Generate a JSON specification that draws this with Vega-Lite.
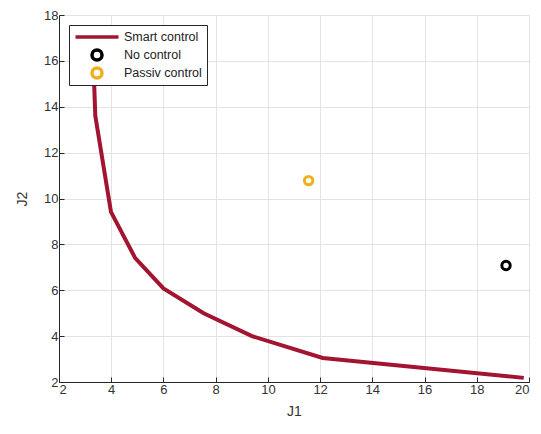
{
  "$schema": "https://vega.github.io/schema/vega-lite/v6.json",
  "autosize": {"type": "none"},
  "width": 470,
  "height": 367,
  "padding": {"left": 59, "top": 15, "right": 12, "bottom": 52},
  "background": "white",
  "config": {
    "font": "Liberation Sans",
    "view": {"stroke": "#d9d9d9", "strokeWidth": 1},
    "axis": {
      "domainColor": "#262626",
      "domainWidth": 1,
      "tickColor": "#262626",
      "tickSize": -5,
      "labelColor": "#333333",
      "labelFontSize": 13,
      "titleColor": "#333333",
      "titleFontSize": 14,
      "titleFontWeight": "normal",
      "gridColor": "#e3e3e3",
      "gridWidth": 1
    },
    "legend": {
      "orient": "top-left",
      "offset": 10,
      "fillColor": "white",
      "strokeColor": "#262626",
      "padding": 5,
      "cornerRadius": 0,
      "labelFontSize": 12.5,
      "labelColor": "#222222",
      "rowPadding": 4,
      "clipHeight": 14,
      "symbolOffset": 16,
      "labelOffset": 20,
      "symbolStrokeWidth": 3.5,
      "symbolSize": 100,
      "symbolFillColor": "transparent"
    }
  },
  "data": {
    "values": [
      {"J1": 3.3, "J2": 16.5, "series": "Smart control"},
      {"J1": 3.39, "J2": 13.6, "series": "Smart control"},
      {"J1": 3.99, "J2": 9.42, "series": "Smart control"},
      {"J1": 4.92, "J2": 7.4, "series": "Smart control"},
      {"J1": 6.0, "J2": 6.08, "series": "Smart control"},
      {"J1": 7.54, "J2": 5.0, "series": "Smart control"},
      {"J1": 9.39, "J2": 4.0, "series": "Smart control"},
      {"J1": 12.1, "J2": 3.05, "series": "Smart control"},
      {"J1": 19.8, "J2": 2.18, "series": "Smart control"},
      {"J1": 19.12, "J2": 7.08, "series": "No control"},
      {"J1": 11.56, "J2": 10.78, "series": "Passiv control"}
    ]
  },
  "layer": [
    {
      "transform": [{"filter": "datum.series === 'Smart control'"}],
      "mark": {"type": "line", "strokeWidth": 4, "clip": true},
      "encoding": {
        "x": {"field": "J1", "type": "quantitative", "scale": {"domain": [2, 20], "nice": false, "zero": false}, "axis": {"values": [2,4,6,8,10,12,14,16,18,20], "title": "J1", "labelPadding": 6, "titlePadding": 8}},
        "y": {"field": "J2", "type": "quantitative", "scale": {"domain": [2, 18], "nice": false, "zero": false}, "axis": {"values": [2,4,6,8,10,12,14,16,18], "title": "J2", "labelPadding": 6, "titlePadding": 14}},
        "color": {"field": "series", "type": "nominal", "title": null, "scale": {"domain": ["Smart control", "No control", "Passiv control"], "range": ["#A2142F", "#000000", "#EDB120"]}}
      }
    },
    {
      "transform": [{"filter": "datum.series !== 'Smart control'"}],
      "mark": {"type": "point", "filled": false, "strokeWidth": 3, "size": 70, "opacity": 1},
      "encoding": {
        "x": {"field": "J1", "type": "quantitative"},
        "y": {"field": "J2", "type": "quantitative"},
        "color": {"field": "series", "type": "nominal", "title": null},
        "shape": {"field": "series", "type": "nominal", "title": null, "scale": {"domain": ["Smart control", "No control", "Passiv control"], "range": ["M-4.3,0H4.3", "circle", "circle"]}}
      }
    }
  ]
}
